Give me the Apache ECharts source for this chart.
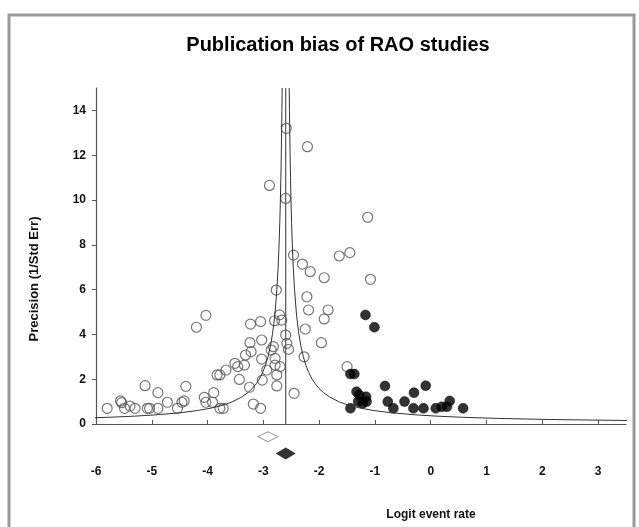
<!DOCTYPE html>
<html><head><meta charset="utf-8">
<script src="https://cdn.jsdelivr.net/npm/echarts@6/dist/echarts.min.js"></script>
<style>html,body{margin:0;padding:0;background:#fff}#c{width:639px;height:527px}</style>
</head><body><div id="c"></div>
<script>
// ---- data ----
const openX = [-5.80,-5.56,-5.54,-5.49,-5.39,-5.30,-5.12,-5.08,-5.04,-4.89,-4.89,-4.72,-4.54,-4.46,-4.42,-4.39,-4.20,-4.03,-4.06,-4.03,-3.89,-3.91,-3.83,-3.78,-3.78,-3.72,-3.67,
  -3.51,-3.46,-3.34,-3.32,-3.43,-3.22,-3.24,-3.23,-3.05,-3.03,-3.25,-3.18,-3.05,-3.02,-3.03,-2.94,-2.86,-2.82,-2.80,-2.79,-2.76,-2.76,-2.71,-2.67,-2.70,-2.60,-2.58,-2.55,-2.45,-2.27,-2.19,-2.79,
  -2.77,-2.46,-2.30,-2.16,-1.91,-1.64,-1.45,-1.08,-2.22,-1.84,-1.91,-2.25,-1.96,-1.50,-1.13,-2.89,-2.60,-2.59,-2.21];
const openY = [0.70,1.03,0.95,0.70,0.80,0.70,1.71,0.70,0.70,1.40,0.70,0.97,0.70,0.97,1.03,1.68,4.32,4.85,1.19,0.97,1.40,0.97,2.19,2.19,0.70,0.70,2.41,
  2.71,2.56,2.63,3.08,1.99,3.23,3.63,4.46,4.57,3.75,1.64,0.89,0.70,1.96,2.90,2.41,3.30,3.45,4.61,2.63,2.19,1.70,4.87,4.64,2.56,3.97,3.60,3.33,1.37,3.00,5.09,2.93,
  5.98,7.54,7.14,6.80,6.53,7.50,7.65,6.46,5.68,5.09,4.69,4.24,3.63,2.56,9.23,10.65,10.07,13.2,12.38];
const filledX = [-1.17,-1.01,-1.44,-1.37,-1.33,-1.28,-1.16,-1.30,-1.22,-1.15,-1.44,-0.82,-0.77,-0.67,-0.47,-0.30,-0.09,-0.31,-0.13,0.09,0.20,0.29,0.34,0.58];
const filledY = [4.87,4.32,2.23,2.23,1.44,1.29,1.22,1.00,0.92,1.00,0.70,1.70,1.00,0.70,1.00,1.40,1.71,0.70,0.70,0.70,0.77,0.77,1.03,0.70];
const observedMean = -2.92;   // open diamond
const adjustedMean = -2.60;   // filled diamond (centre line)
const funnelZ = 0.95;         // half-width of funnel in SE units
const xTicks = [-6,-5,-4,-3,-2,-1,0,1,2,3];
const yTicks = [0,2,4,6,8,10,12,14];
const precisionSteps = [0.15,0.2,0.25,0.3,0.35,0.4,0.5,0.6,0.7,0.8,0.9,1,1.2,1.4,1.6,1.8,2,2.3,2.6,3,3.5,4,4.5,5,6,7,8,9,10,11,12,13,14,15];

const openData = openX.map((x,i)=>[x, openY[i]]);
const filledData = filledX.map((x,i)=>[x, filledY[i]]);
const leftFunnel = precisionSteps.map(p=>[adjustedMean - funnelZ/p, p]);
const rightFunnel = precisionSteps.map(p=>[adjustedMean + funnelZ/p, p]);

const chart = echarts.init(document.getElementById('c'));
const FONT = 'Liberation Sans, Arial, sans-serif';
chart.setOption({
  animation:false,
  backgroundColor:'#fff',
  grid:[{left:96, top:88, width:530, height:336},{left:96, top:424, width:530, height:40}],
  xAxis:[{
    type:'value', min:-6, max:3.5, interval:1, gridIndex:0,
    axisLine:{onZero:false, lineStyle:{color:'#555', width:1.2}},
    axisTick:{inside:true, length:4, lineStyle:{color:'#555'}},
    splitLine:{show:false},
    axisLabel:{margin:42, showMaxLabel:false, color:'#111', fontWeight:'bold', fontSize:12, fontFamily:FONT,
      formatter:v=> xTicks.includes(v) ? String(v) : ''}
  },{type:'value', min:-6, max:3.5, gridIndex:1, show:false}],
  yAxis:[{
    type:'value', min:0, max:15, interval:2, gridIndex:0,
    axisLine:{show:true, onZero:false, lineStyle:{color:'#555', width:1.2}},
    axisTick:{show:true, length:4, lineStyle:{color:'#555'}},
    splitLine:{show:false},
    axisLabel:{margin:10, showMaxLabel:false, color:'#111', fontWeight:'bold', fontSize:12, fontFamily:FONT,
      formatter:v=> yTicks.includes(v) ? String(v) : ''}
  },{type:'value', min:0, max:1, gridIndex:1, show:false}],
  series:[
    {type:'line', data:leftFunnel, showSymbol:false, symbol:'none', lineStyle:{color:'#333', width:1}, xAxisIndex:0, yAxisIndex:0, clip:true, silent:true},
    {type:'line', data:rightFunnel, showSymbol:false, symbol:'none', lineStyle:{color:'#333', width:1}, xAxisIndex:0, yAxisIndex:0, clip:true, silent:true},
    {type:'line', data:[[adjustedMean,0],[adjustedMean,15]], symbol:'none', lineStyle:{color:'#555', width:1.2}, silent:true},
    {type:'scatter', data:openData, symbol:'circle', symbolSize:10,
      itemStyle:{color:'rgba(0,0,0,0)', borderColor:'#555', borderWidth:1.2}},
    {type:'scatter', data:filledData, symbol:'circle', symbolSize:10,
      itemStyle:{color:'#000', borderColor:'#000', borderWidth:0.5}},
    {type:'scatter', xAxisIndex:1, yAxisIndex:1, data:[[observedMean,0.68]], symbol:'diamond', symbolSize:[20,10],
      itemStyle:{color:'#fff', borderColor:'#777', borderWidth:1}},
    {type:'scatter', xAxisIndex:1, yAxisIndex:1, data:[[adjustedMean,0.26]], symbol:'diamond', symbolSize:[20,12],
      itemStyle:{color:'#000'}}
  ],
  graphic:[
    {type:'rect', shape:{x:9, y:15, width:625, height:530}, style:{fill:'none', stroke:'#9a9a9a', lineWidth:3}, silent:true, z:-1},
    {type:'text', x:338, y:45, style:{text:'Publication bias of RAO studies', fill:'#000', font:'bold 20px '+FONT, textAlign:'center', textVerticalAlign:'middle'}},
    {type:'text', x:34, y:279, rotation:Math.PI/2, style:{text:'Precision (1/Std Err)', fill:'#111', font:'bold 13px '+FONT, textAlign:'center', textVerticalAlign:'middle'}},
    {type:'text', x:431, y:515, style:{text:'Logit event rate', fill:'#111', font:'bold 12px '+FONT, textAlign:'center', textVerticalAlign:'middle'}}
  ]
});
</script></body></html>
